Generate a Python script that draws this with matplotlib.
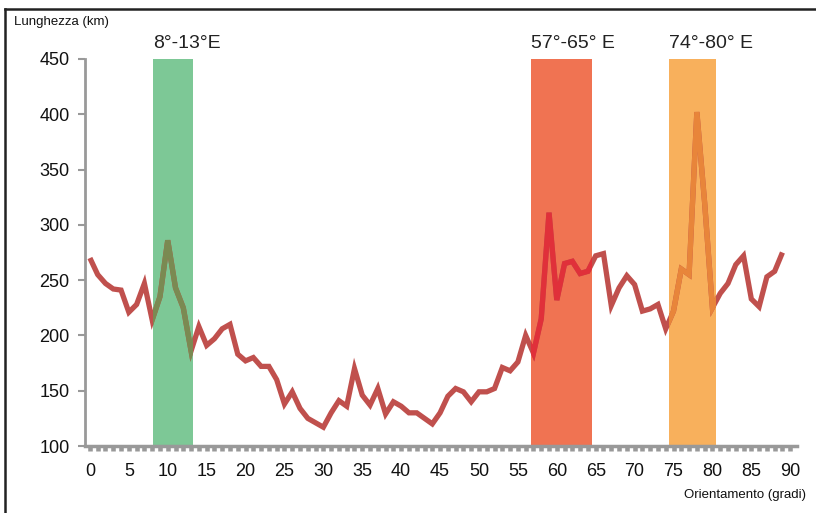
import matplotlib.pyplot as plt
import matplotlib.patches as mpatches
from matplotlib.lines import Line2D
import numpy as np

plt.rcParams['font.family'] = ['Liberation Sans', 'DejaVu Sans']

# ── Data ─────────────────────────────────────────────────
degrees = np.arange(0, 90)
lengths = [
    270, 255, 247, 242, 241, 221, 228, 247, 214, 235,
    286, 243, 225, 186, 208, 191, 197, 206, 210, 183,
    177, 180, 172, 172, 160, 138, 149, 134, 125, 121,
    117, 130, 141, 136, 170, 146, 137, 152, 129, 140,
    136, 130, 130, 125, 120, 130, 145, 152, 149, 140,
    149, 149, 152, 171, 168, 176, 200, 184, 215, 311,
    232, 265, 267, 256, 258, 272, 274, 227, 243, 254,
    246, 222, 224, 228, 206, 222, 260, 255, 402, 320,
    225, 238, 247, 264, 272, 233, 226, 253, 258, 275,
]

band_labels = ['8°-13°E', '57°-65° E', '74°-80° E']
band_ranges = [(8.1, 13.2), (56.7, 64.5), (74.4, 80.5)]
band_colors = ['#7dc896', '#f07352', '#f8b05c']
band_line_colors = ['#7a8a52', '#e0303a', '#e8853a']

line_color = '#c0504d'
axis_grey = '#999999'

# ── Figure ───────────────────────────────────────────────
fig = plt.figure(figsize=(8.16, 5.13), dpi=100)
ax = fig.add_axes([0.104, 0.1306, 0.873, 0.7544])

ax.plot(degrees, lengths, color=line_color, linewidth=3.8, zorder=3,
        solid_joinstyle='miter', solid_capstyle='butt')

for (x0, x1), bc, lc, lab in zip(band_ranges, band_colors, band_line_colors, band_labels):
    ax.axvspan(x0, x1, color=bc, zorder=1, linewidth=0)
    clip = mpatches.Rectangle((x0, 0), x1 - x0, 1000, transform=ax.transData,
                              facecolor='none', edgecolor='none')
    ax.add_patch(clip)
    seg, = ax.plot(degrees, lengths, color=lc, linewidth=3.8, zorder=4,
                   solid_joinstyle='miter', solid_capstyle='butt')
    seg.set_clip_path(clip)
    ax.text(x0, 456, lab, ha='left', va='bottom',
            fontsize=14, color='#222222', clip_on=False)

# ── Axes config ──────────────────────────────────────────
ax.set_xlim(-0.65, 90.9)
ax.set_ylim(100, 450)
ax.set_xticks(np.arange(0, 91, 5))
ax.set_xticks(np.arange(0, 91, 1), minor=True)
ax.set_yticks(np.arange(100, 451, 50))

for s in ['top', 'right']:
    ax.spines[s].set_visible(False)
ax.spines['bottom'].set_color(axis_grey)
ax.spines['bottom'].set_linewidth(2.5)
ax.spines['left'].set_color(axis_grey)
ax.spines['left'].set_linewidth(2.0)

ax.tick_params(axis='x', which='both', direction='out', length=3.5, width=3.3,
               color=axis_grey, labelsize=13, pad=9, labelcolor='#111111')
ax.tick_params(axis='y', direction='out', length=5, width=1.5,
               color=axis_grey, labelsize=13, pad=6, labelcolor='#111111')

fig.text(14 / 816, 1 - 22 / 513, 'Lunghezza (km)', fontsize=9.5, ha='left',
         va='center', color='#111111')
fig.text(806 / 816, 1 - 495 / 513, 'Orientamento (gradi)', fontsize=9.5,
         ha='right', va='center', color='#111111')

# ── Frame border ─────────────────────────────────────────
fig.add_artist(Line2D([5 / 816, 5 / 816], [0, 1 - 9 / 513], color='#222222',
                      linewidth=1.8, transform=fig.transFigure))
fig.add_artist(Line2D([5 / 816, 1], [1 - 9 / 513, 1 - 9 / 513], color='#222222',
                      linewidth=1.8, transform=fig.transFigure))

fig.savefig('out.png', dpi=100, facecolor='white')
